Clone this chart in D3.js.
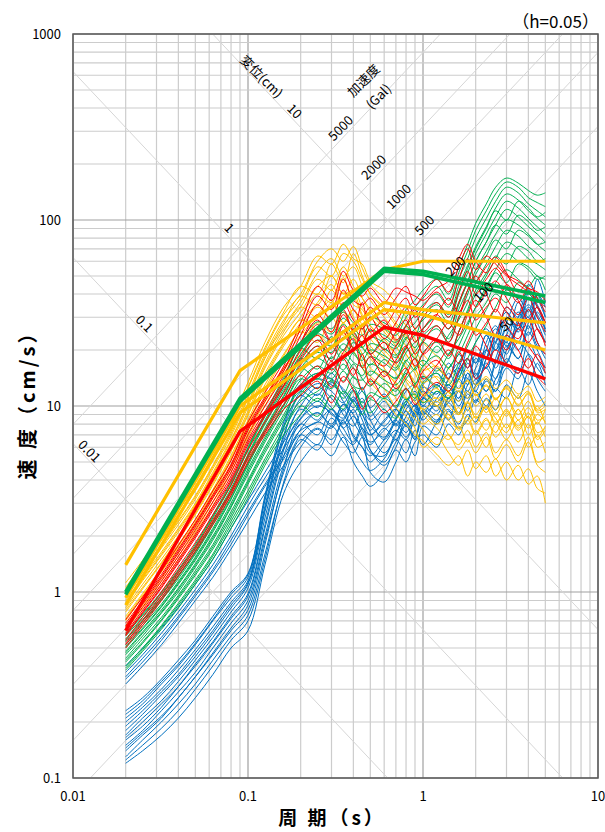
<!DOCTYPE html>
<html>
<head>
<meta charset="utf-8">
<script src="https://cdn.jsdelivr.net/npm/d3@7"></script>
<style>
  body { margin: 0; background: #fff; }
  svg { display: block; }
  text { font-family: "Noto Sans CJK JP", "Noto Sans", sans-serif; }
</style>
</head>
<body>
<svg id="chart" width="605" height="832"></svg>
<script>
// periods (s) shared by every thin spectrum
const periods = [0.02,0.025,0.032,0.04,0.05,0.063,0.08,0.1,0.125,0.16,0.2,0.25,0.3,0.35,0.4,0.45,0.5,0.6,0.7,0.8,0.9,1.0,1.2,1.4,1.6,1.8,2.0,2.3,2.6,3.0,3.5,4.0,4.5,5.0]

// velocity response (cm/s), one array per wave
const blueWaves = [
  [0.12,0.14,0.17,0.21,0.27,0.36,0.5,0.62,1.4,3.4,5.0,6.2,5.4,6.8,5.0,4.2,3.7,4.4,5.8,5.0,6.4,7.0,6.0,8.0,7.0,9.0,8.2,11,9.5,13,11,15,12,10],
  [0.13,0.16,0.2,0.25,0.32,0.43,0.58,0.75,1.6,3.8,6.0,7.5,6.2,8.4,6.0,5.0,4.5,5.2,6.6,5.6,7.4,6.2,8.2,9.6,8.0,10.5,12,10,14,17,22,19,14,12],
  [0.14,0.17,0.21,0.27,0.35,0.47,0.64,0.85,1.9,4.4,7.0,8.2,7.6,9.6,6.8,6.0,5.0,6.2,7.4,6.6,8.6,9.4,8.0,11,12,9.4,13,16,13,20,26,30,22,18],
  [0.15,0.18,0.23,0.29,0.37,0.5,0.68,0.9,2.0,4.8,7.5,9.2,7.8,10.2,8.2,6.8,5.6,5.4,7.2,8.2,6.8,8.8,10,8.4,12,11,14,12,18,24,20,28,34,25],
  [0.16,0.19,0.24,0.31,0.4,0.53,0.72,0.95,2.2,5.4,8.5,10,9.2,8.0,9.6,7.4,6.4,7.4,8.4,7.2,9.2,11,9.4,13,11,15,13,18,22,17,28,35,30,24],
  [0.17,0.21,0.26,0.33,0.43,0.57,0.78,1.05,2.5,6.0,9.0,11.6,9.8,8.6,10.8,8.4,7.0,8.2,9.6,8.2,10.2,9.0,12,10.5,14,12,16,20,16,24,32,26,40,30],
  [0.18,0.22,0.28,0.35,0.45,0.6,0.82,1.1,2.7,6.5,10,12.6,11,9.4,11.2,9.0,7.8,6.8,8.6,10.2,8.8,11,13,11,15,18,14,22,27,21,30,42,35,28],
  [0.2,0.24,0.3,0.38,0.49,0.65,0.88,1.15,2.9,7.0,11,13.2,12,10.4,12.2,9.8,8.4,9.6,7.8,9.6,11,12,10.5,14,17,14,19,16,24,32,26,45,38,30],
  [0.21,0.25,0.32,0.4,0.52,0.7,0.93,1.2,3.1,7.6,12,14,13,11.5,9.8,11,8.8,10.6,8.8,11,10,13,15,12,16,20,17,24,20,28,38,32,48,36],
  [0.23,0.27,0.34,0.43,0.55,0.74,1.0,1.26,3.3,8.2,13,15,14,12.4,10.8,12.6,9.8,11.6,9.8,12,13,11,16,14,19,16,22,26,22,34,30,40,34,28],
  [0.125,0.15,0.185,0.23,0.3,0.4,0.55,0.7,1.5,3.9,6.6,5.8,7.8,6.4,5.6,6.8,4.4,3.9,5.0,6.6,5.4,7.8,7.0,9.4,7.6,8.4,10.8,9.6,12.4,11,16,13,17,13],
  [0.145,0.175,0.215,0.27,0.35,0.46,0.62,0.8,1.8,4.6,8.0,7.0,9.6,7.6,6.4,8.0,5.8,4.8,6.0,8.0,6.6,9.6,8.4,11,9.2,12,10.6,14,12,18,15,22,18,15],
  [0.165,0.2,0.25,0.31,0.41,0.54,0.74,0.98,2.3,5.8,9.6,8.4,11.4,9.0,7.8,9.4,7.2,5.6,7.0,9.4,7.8,11,10,12.6,10.6,14,12,17,14,21,18,27,21,19],
  [0.19,0.23,0.29,0.36,0.47,0.62,0.85,1.12,2.8,6.8,11.4,9.8,13.4,10.6,9.2,10.6,8.4,6.6,8.4,10.6,9.0,12.6,11.6,15,12.4,17,14.6,20,17,26,22,33,26,22],
  [0.22,0.26,0.33,0.41,0.53,0.71,0.97,1.24,3.2,7.8,13,11.4,15,12,10.6,12,9.6,7.8,9.6,12.4,10.6,14.4,13,17,14.4,20,17,24,20,30,26,38,31,26],
  [0.32,0.4,0.52,0.68,0.9,1.2,1.7,2.4,3.4,4.8,6.4,7.6,6.6,8.2,7.0,6.0,5.4,6.6,8.0,6.8,8.6,10,9.0,12,10,13,15,12,17,22,18,25,20,16],
  [0.34,0.42,0.55,0.72,0.95,1.28,1.8,2.6,3.7,5.2,7.0,6.2,8.6,7.0,6.2,7.6,5.8,5.0,6.4,7.8,6.6,9.2,8.2,10.4,9.0,11.6,10.4,13.6,12,16,14,19,16,14],
  [0.35,0.44,0.57,0.74,0.98,1.32,1.9,2.7,3.8,5.4,7.4,8.2,9.6,7.6,8.8,7.0,6.2,7.6,6.6,8.8,10,8.4,11,13,11,15,13,18,24,19,28,24,32,26],
  [0.37,0.46,0.6,0.78,1.03,1.4,2.0,2.9,4.1,5.9,8.0,9.2,8.0,10.2,9.0,7.6,7.0,8.4,9.6,7.8,9.6,12,10,14,16,13,18,16,22,30,25,34,28,22],
  [0.4,0.5,0.64,0.83,1.1,1.5,2.2,3.1,4.4,6.4,8.6,10.6,9.0,8.4,10.6,9.0,7.4,9.2,8.0,10.2,12,10,13,11,15,18,14,20,26,22,36,30,40,34]
]
const yellowWaves = [
  [0.62,0.82,1.1,1.5,2.0,2.9,4.4,6.8,10,15,19,24,21,28,20,16,13.5,11,9.0,8.0,7.0,6.5,5.5,4.8,5.4,4.2,5.0,4.4,5.2,4.0,4.8,3.8,4.2,3.0],
  [0.64,0.85,1.15,1.56,2.1,3.05,4.6,7.1,10.5,15.5,20,18,23,19,24,17,14.5,12.4,9.8,8.8,7.6,6.0,6.8,5.6,4.8,5.8,4.6,5.4,4.2,5.0,4.0,4.6,3.6,3.4],
  [0.66,0.88,1.2,1.62,2.2,3.2,4.8,7.4,11,16,21,28,25,32,24,19,16,14,11,9.5,8.5,7.5,6.2,7.0,5.8,6.6,5.6,6.8,5.2,6.2,5.0,6.4,4.8,4.4],
  [0.7,0.94,1.28,1.72,2.3,3.35,5.1,7.9,12,18,24,31,37,28,33,24,20,16,13,11,11.5,9.0,7.6,6.6,7.8,6.4,7.4,6.0,8.0,6.6,8.4,6.0,7.0,5.6],
  [0.72,0.96,1.3,1.76,2.38,3.45,5.25,8.1,12.4,18.6,25,22,30,24,27,21,18,15,13.4,11,9.2,8.0,9.0,7.0,6.2,7.4,6.0,7.2,5.6,6.6,5.4,6.8,5.0,5.2],
  [0.74,0.98,1.34,1.8,2.45,3.55,5.4,8.4,13,19,26,34,30,41,30,26,21,18,15,12.5,10.5,9.6,8.0,9.0,7.4,8.4,7.0,8.4,7.2,9.2,7.4,8.8,6.6,7.4],
  [0.78,1.04,1.42,1.9,2.6,3.75,5.7,8.9,14,21,28,36,45,34,38,30,25,20,17,14,12.5,10.5,11,9.0,8.2,9.6,8.0,10,8.6,7.2,9.6,7.6,9.0,8.2],
  [0.8,1.06,1.44,1.95,2.65,3.85,5.85,9.1,14.4,21.6,29,26,36,28,33,27,23,19,16.4,13.6,11.4,9.6,10.6,8.4,7.6,8.8,7.2,8.6,6.8,8.0,6.4,8.0,6.0,6.4],
  [0.82,1.1,1.5,2.0,2.75,4.0,6.0,9.4,15,22,30,40,36,49,35,33,27,23,19,16,13,11.5,10,11.4,9.0,10.4,9.0,10.8,9.0,11.2,8.4,9.8,8.0,9.6],
  [0.86,1.15,1.57,2.1,2.9,4.2,6.3,9.9,16,24,32,44,50,40,42,34,30,25,21,17,15,12,10,8.6,9.8,8.0,8.8,7.4,9.2,7.6,9.6,7.0,8.2,6.8],
  [0.88,1.17,1.6,2.16,2.94,4.3,6.5,10.2,16.4,25,34,30,42,34,40,31,27,22,19,16,13.4,11.4,12.4,10,9.0,10.4,8.6,10,8.2,9.4,7.8,9.2,7.2,7.6],
  [0.9,1.2,1.64,2.2,3.0,4.4,6.6,10.4,17,26,34,48,42,56,44,38,33,27,23,19,16,13,11,11.8,9.2,10.6,8.6,9.8,8.0,9.6,7.6,8.8,6.8,7.8],
  [0.94,1.25,1.72,2.3,3.15,4.6,6.9,11,18,27,36,52,62,50,56,44,37,30,25,21,18,15,12.6,10.6,12,9.8,11.6,9.2,11,8.8,11.4,8.6,10,8.0],
  [0.96,1.28,1.76,2.38,3.24,4.72,7.1,11.2,18.4,28,39,35,50,40,48,38,32,26,22,19,16,13.4,14.4,12,10.6,12,10,11.6,9.6,11,9.0,10.6,8.4,8.8],
  [0.98,1.3,1.8,2.42,3.3,4.8,7.3,11.6,19,29,38,56,50,66,60,48,40,34,28,24,20,17,14,12,13.6,11,12.6,14,10.8,12.8,11,12,9.6,10.6],
  [1.04,1.38,1.9,2.56,3.5,5.1,7.8,12.4,20,31,40,60,70,60,72,55,45,38,32,27,23,19,16,14,12.4,13.6,11.4,12.8,11,12.4,10.2,11.6,9.4,10],
  [1.06,1.41,1.94,2.62,3.58,5.2,7.9,12.6,20.6,32,44,40,58,46,66,50,40,33,27,23,19,15.6,16.4,13.6,12,13.8,11.4,13,10.8,12.6,10,11.8,9.2,9.6],
  [1.12,1.48,2.04,2.75,3.7,5.4,8.3,13.4,22,34,44,64,58,74,62,58,47,42,36,30,26,22,18.5,16,14,15.6,13,14.4,12.4,13.8,11.6,12.8,10.6,11.2]
]
const greenWaves = [
  [0.38,0.48,0.63,0.82,1.1,1.5,2.2,3.2,4.8,7.0,9.0,11,9.6,12,10.4,9.0,10.8,9.6,8.6,10.6,11.6,10.4,12,11,14,18,22,27,34,42,38,40,36,38],
  [0.39,0.49,0.65,0.85,1.13,1.56,2.3,3.35,5.0,7.4,10,8.8,11.4,9.6,12,10,9.2,11,10,12.4,11,13.4,15,13,17,21,26,33,40,36,46,42,38,40],
  [0.4,0.5,0.66,0.87,1.16,1.6,2.4,3.5,5.2,7.8,10.6,12,13.6,11,12.6,10.4,11.8,11,12.4,10.8,13,14.4,12.6,16,19,24,30,36,46,54,48,44,50,42],
  [0.42,0.53,0.7,0.92,1.23,1.7,2.5,3.8,5.6,8.4,11.6,14,12.4,15.4,12.8,12.4,13.6,12.4,11.4,14,16,17.6,15.4,19,23,28,34,44,54,66,60,56,50,48],
  [0.43,0.54,0.71,0.94,1.26,1.75,2.6,3.9,5.8,8.7,12,10.6,13.8,11.6,14.4,12,11,13.2,12,15,13.2,16.4,18.6,16,21,27,34,42,52,46,58,54,48,50],
  [0.44,0.56,0.73,0.96,1.3,1.8,2.7,4.0,6.0,9.0,12.8,15,14,16.8,14.2,13.8,15.4,13.8,13,15.6,18,16.4,21,18,25,32,40,50,62,76,70,62,58,54],
  [0.46,0.58,0.77,1.0,1.36,1.9,2.85,4.3,6.4,9.6,13.8,16.4,15,18.4,16,14.6,16.8,15.4,14.2,17.4,19.6,22,19.4,24,29,36,46,58,72,88,82,72,66,60],
  [0.47,0.6,0.78,1.03,1.39,1.95,2.9,4.45,6.6,10,14,12.4,16,13.6,16.8,14,12.8,15.4,14,17.6,15.6,19.4,22,19,25,33,42,52,64,58,72,68,60,62],
  [0.48,0.61,0.8,1.05,1.42,2.0,3.0,4.6,6.8,10.2,15,18,16.4,20,17.2,16.4,18.4,17,15.6,19.4,22,24,27,23,33,42,54,68,84,100,94,84,74,68],
  [0.5,0.63,0.83,1.1,1.48,2.1,3.15,4.8,7.2,10.8,16,19.4,18,21.6,19,17.6,20,18.6,17.2,21,24,26,30,26,36,46,60,76,94,114,104,92,84,76],
  [0.51,0.64,0.84,1.12,1.51,2.15,3.2,4.9,7.4,11.2,16,14,18.4,15.6,19.4,16,14.6,17.8,16,20.4,18,22.6,26,22,30,40,51,64,78,70,88,82,74,76],
  [0.52,0.66,0.86,1.14,1.54,2.2,3.3,5.0,7.6,11.4,17,21,19.4,23.4,20.6,19,21.6,20.4,18.8,23,26,29,33,28,40,52,66,84,104,126,116,102,92,84],
  [0.54,0.68,0.9,1.18,1.6,2.3,3.45,5.3,8.0,12,18,22.6,21,25.4,22.4,20.6,23.4,22,20.4,25,28,32,36,31,44,57,72,92,116,138,128,112,102,94],
  [0.55,0.7,0.91,1.21,1.63,2.35,3.5,5.4,8.2,12.4,18,15.8,20.8,17.6,22,18.2,16.6,20.2,18.2,23.4,20.6,26,30,26,35,47,60,76,94,84,106,98,88,92],
  [0.56,0.71,0.93,1.23,1.66,2.4,3.6,5.5,8.4,12.8,19,24.4,22.6,27.4,24,22.2,25.4,24,22,27,31,35,40,34,48,62,80,102,126,150,140,122,112,104],
  [0.58,0.73,0.96,1.27,1.72,2.5,3.75,5.8,8.8,13.4,20.4,26.4,24.4,29.6,26,24,27.4,26,24,30,34,38,44,37,52,68,88,112,138,160,150,132,124,118],
  [0.59,0.75,0.98,1.3,1.76,2.55,3.8,5.9,9.0,13.8,20.4,18,23.6,20,25,20.6,19,23,21,27,24,30,35,30,41,55,70,90,112,100,126,116,104,110],
  [0.6,0.76,1.0,1.32,1.8,2.6,3.9,6.0,9.2,14.2,22,28.4,26,32,28,26,30,28,26,33,37,42,48,40,56,74,96,122,150,168,158,144,136,140]
]
const redWaves = [
  [0.5,0.66,0.9,1.22,1.65,2.3,3.3,5.0,7.0,9.6,11.4,13.6,10.4,14.4,12.2,9.6,11.4,9.2,10.6,12.4,10.2,11.4,13.4,12,15.4,18,14,16.4,20,17,15,18,14.4,13],
  [0.52,0.68,0.93,1.26,1.7,2.38,3.4,5.2,7.2,10.2,13,16.4,12.6,18,14.6,19,13,15.4,12.4,14.6,18,14,16.6,20,17,22,26,21,17,24,20,16,19,15],
  [0.53,0.7,0.96,1.3,1.75,2.45,3.5,5.4,7.4,10.8,14.6,12.4,17.4,13.4,16,12.2,14,11.2,13.6,16,12.6,15.4,17.6,14,19.6,16,21,18,24,20,26,21,18,16],
  [0.55,0.73,1.0,1.36,1.84,2.6,3.75,5.8,8.2,11.8,16.6,21,15.6,19.4,23,16,18.4,14.4,17.6,21,16.4,19,23,18.6,25,31,24,28,33,27,23,29,22,19],
  [0.58,0.77,1.05,1.43,1.95,2.75,3.95,6.2,8.8,12.8,18.4,24,19,27,20.4,24,19,16.4,21,24.6,19,22,27,22,30,37,29,34,38,32,27,33,26,22],
  [0.59,0.78,1.07,1.46,2.0,2.82,4.05,6.4,9.0,13,17.6,22.6,17.4,25,19.6,27,19,22,17,20.4,25,19,23,28,24,31,37,30,24,34,28,22,26,21],
  [0.6,0.8,1.1,1.5,2.05,2.9,4.2,6.6,9.4,13.6,20,27.4,22,31,25,22,26,20,25,29,22,26,31,26,36,45,34,41,47,38,31,38,30,25],
  [0.63,0.83,1.14,1.56,2.15,3.05,4.4,7.0,10,14.6,22,31,25,36,29,26,30,23,28,34,26,30,36,30,41,53,40,48,55,45,36,43,34,28],
  [0.65,0.86,1.18,1.62,2.24,3.2,4.6,7.4,10.6,15.4,24,35,29,42,33,30,34,27,33,38,30,34,41,35,48,62,47,56,63,52,41,47,38,32],
  [0.66,0.88,1.21,1.66,2.3,3.27,4.75,7.6,10.9,15.9,22,29,22.4,33,25.6,36,25,29,22.6,27,33,25,31,38,32,42,50,40,32,45,37,29,34,28],
  [0.68,0.9,1.24,1.7,2.34,3.34,4.86,7.8,11.2,16.4,26,39,33,48,37,35,38,31,38,44,35,39,48,41,56,70,54,64,58,50,45,41,37,34],
  [0.71,0.94,1.3,1.78,2.45,3.5,5.1,8.2,11.8,17.4,28,44,37,53,42,39,43,36,43,41,39,37,43,47,62,74,60,52,60,51,47,43,41,37]
]

// design spectra break points
const specPeriods = [0.02, 0.09, 0.6, 1.0, 5.0]
const orangeSpecs = [
  [1.4, 15.5, 54, 60, 60],
  [0.93, 10, 36, 33, 28],
  [0.85, 9.2, 33, 31, 20]
]
const greenSpecs = [
  [1.0, 11, 55, 53, 39],
  [0.97, 10.6, 53, 51, 36]
]
const redSpecs = [
  [0.62, 7.3, 26.5, 24, 14]
]

// tripartite guide lines
const dispLines = [0.01, 0.1, 1, 10]            // cm
const accLines = [50, 100, 200, 500, 1000, 2000, 5000]   // Gal
const dispLabelT = [0.0125, 0.0258, 0.0789, 0.186]
const accLabelT = [2.98, 2.2, 1.52, 1.01, 0.72, 0.518, 0.336]

const xTicks = [0.01, 0.1, 1, 10]
const yTicks = [0.1, 1, 10, 100, 1000]

const svg = d3.select('#chart')
const plotL = 73, plotR = 598, plotT = 34, plotB = 778
const x = d3.scaleLog().domain([0.01, 10]).range([plotL, plotR])
const y = d3.scaleLog().domain([0.1, 1000]).range([plotB, plotT])
const TWO_PI = 2 * Math.PI

svg.append('clipPath').attr('id', 'plot')
  .append('rect').attr('x', plotL).attr('y', plotT)
  .attr('width', plotR - plotL).attr('height', plotB - plotT)

// grid
const minor = []
for (let e = -2; e <= 3; e++) for (let m = 1; m <= 9; m++) minor.push({ v: m * Math.pow(10, e), major: m === 1 })
const grid = svg.append('g')
grid.selectAll('.vx').data(minor.filter(d => d.v >= 0.01 && d.v <= 10.0001))
  .enter().append('line')
  .attr('x1', d => x(d.v)).attr('x2', d => x(d.v))
  .attr('y1', plotT).attr('y2', plotB)
  .attr('stroke', d => d.major ? '#a0a0a0' : '#cccccc').attr('stroke-width', 1.2)
grid.selectAll('.hy').data(minor.filter(d => d.v >= 0.1 && d.v <= 1000.001))
  .enter().append('line')
  .attr('x1', plotL).attr('x2', plotR)
  .attr('y1', d => y(d.v)).attr('y2', d => y(d.v))
  .attr('stroke', d => d.major ? '#a0a0a0' : '#cccccc').attr('stroke-width', 1.2)

// diagonal lines
const diag = svg.append('g').attr('clip-path', 'url(#plot)')
diag.selectAll('.d').data(dispLines).enter().append('line')
  .attr('x1', x(0.01)).attr('y1', d => y(TWO_PI * d / 0.01))
  .attr('x2', x(10)).attr('y2', d => y(TWO_PI * d / 10))
  .attr('stroke', '#d6d6d6').attr('stroke-width', 1)
diag.selectAll('.a').data(accLines).enter().append('line')
  .attr('x1', x(0.01)).attr('y1', d => y(d * 0.01 / TWO_PI))
  .attr('x2', x(10)).attr('y2', d => y(d * 10 / TWO_PI))
  .attr('stroke', '#d6d6d6').attr('stroke-width', 1)

// thin spectra
const curves = svg.append('g').attr('clip-path', 'url(#plot)')
const thin = d3.line().x(d => x(d[0])).y(d => y(d[1])).curve(d3.curveCatmullRom.alpha(0.5))
function drawWaves(waves, color) {
  curves.append('g').selectAll('path').data(waves).enter().append('path')
    .attr('d', w => thin(periods.map((t, i) => [t, w[i]])))
    .attr('fill', 'none').attr('stroke', color).attr('stroke-width', 1)
}
drawWaves(blueWaves, '#0070C0')
drawWaves(yellowWaves, '#FFC000')
drawWaves(greenWaves, '#00B050')
drawWaves(redWaves, '#FF0000')

// design spectra
const thick = d3.line().x(d => x(d[0])).y(d => y(d[1]))
function drawSpecs(specs, color, w) {
  curves.append('g').selectAll('path').data(specs).enter().append('path')
    .attr('d', s => thick(specPeriods.map((t, i) => [t, s[i]])))
    .attr('fill', 'none').attr('stroke', color).attr('stroke-width', w)
    .attr('stroke-linejoin', 'round')
}
drawSpecs(orangeSpecs, '#FFC000', 3.2)
drawSpecs(greenSpecs, '#00B050', 3.6)
drawSpecs(redSpecs, '#FF0000', 3.4)

// frame
svg.append('rect').attr('x', plotL).attr('y', plotT)
  .attr('width', plotR - plotL).attr('height', plotB - plotT)
  .attr('fill', 'none').attr('stroke', '#595959').attr('stroke-width', 1.5)

// tick labels
svg.selectAll('.xt').data(xTicks).enter().append('text')
  .attr('x', d => x(d)).attr('y', plotB + 23)
  .attr('text-anchor', 'middle').attr('font-size', 13).attr('fill', '#000')
  .text(d => d)
svg.selectAll('.yt').data(yTicks).enter().append('text')
  .attr('x', plotL - 12).attr('y', d => y(d) + 5)
  .attr('text-anchor', 'end').attr('font-size', 13).attr('fill', '#000')
  .text(d => d)

// guide labels
svg.selectAll('.dl').data(dispLines).enter().append('text')
  .attr('transform', (d, i) => {
    const t = dispLabelT[i]
    return `translate(${x(t)},${y(TWO_PI * d / t) - 11}) rotate(45)`
  })
  .attr('text-anchor', 'middle').attr('dominant-baseline', 'central')
  .attr('font-size', 13).text(d => d)
svg.selectAll('.al').data(accLines).enter().append('text')
  .attr('transform', (d, i) => {
    const t = accLabelT[i]
    return `translate(${x(t)},${y(d * t / TWO_PI) - 13}) rotate(-45)`
  })
  .attr('text-anchor', 'middle').attr('dominant-baseline', 'central')
  .attr('font-size', 13).text(d => d)

svg.append('text').attr('transform', 'translate(262,76) rotate(45)')
  .attr('text-anchor', 'middle').attr('dominant-baseline', 'central')
  .attr('font-size', 13).text('変位(cm)')
svg.append('text').attr('transform', 'translate(363,80) rotate(-45)')
  .attr('text-anchor', 'middle').attr('dominant-baseline', 'central')
  .attr('font-size', 13).text('加速度')
svg.append('text').attr('transform', 'translate(378,96) rotate(-45)')
  .attr('text-anchor', 'middle').attr('dominant-baseline', 'central')
  .attr('font-size', 13).text('(Gal)')

svg.append('text').attr('x', 599).attr('y', 28)
  .attr('text-anchor', 'end').attr('font-size', 17).text('（h=0.05）')

svg.append('text').attr('x', 332).attr('y', 825)
  .attr('text-anchor', 'middle').attr('font-size', 19).attr('font-weight', 'bold')
  .attr('letter-spacing', 3)
  .text('周 期（s）')
svg.append('text').attr('transform', 'translate(35,400) rotate(-90)')
  .attr('text-anchor', 'middle').attr('font-size', 20).attr('font-weight', 'bold')
  .attr('letter-spacing', 3)
  .text('速 度（cm/s）')
</script>
</body>
</html>
